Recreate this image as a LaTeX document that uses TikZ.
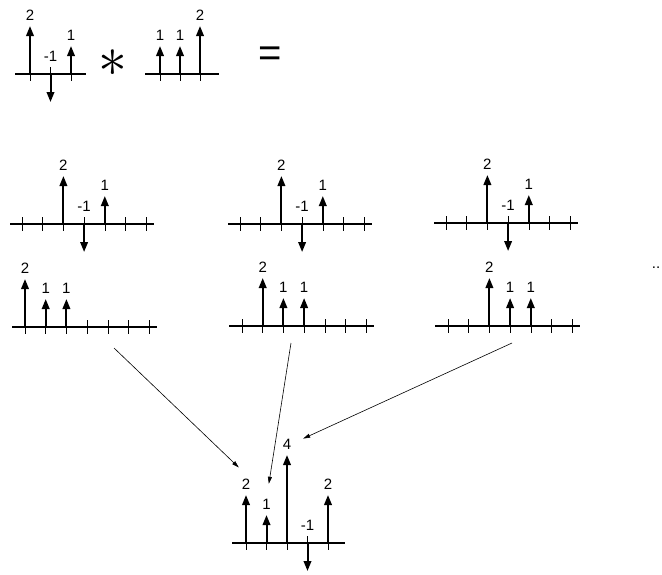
\documentclass[tikz,border=0pt]{standalone}
\usepackage{fontspec}
\setmainfont{Liberation Sans}
\usepackage{amsmath}
\usepackage{tikz}
\usetikzlibrary{arrows.meta}

\begin{document}
\begin{tikzpicture}[
		x = 1pt, y = -1pt,
		font = \fontsize{15}{17}\selectfont,
		ax/.style = {line width = 1.3pt},
		tk/.style = {line width = 0.6pt},
		spike/.style = {
			line width = 2pt,
			-{Triangle[width = 7.5pt, length = 10pt]}
		},
		lbl/.style = {inner sep = 0pt},
		conn/.style = {
			line width = 0.6pt,
			-{Triangle[width = 4pt, length = 7pt]}
		},
		pics/imp/.style = {
			code = {
				\pgfmathsetmacro\tip{(#1 > 0) ? -(8 + 20*#1) : 28}
				\pgfmathsetmacro\ly{(#1 > 0) ? \tip - 11 : -18}
				\draw [spike] (0,0) -- (0,\tip);
				\node [lbl] (-l) at (0,\ly) {#1};
			}
		}
	]
	\useasboundingbox (0,0) rectangle (662,574);

	% x[n]
	\begin{scope}[shift = {(30,74)}]
		\draw [ax] (-15,0) -- (56,0);
		\foreach \k/\a in {0/2, 1/-1, 2/1} {
			\draw [tk] (20.5*\k,-7) -- (20.5*\k,7);
			\pic at (20.5*\k,0) {imp = \a};
		}
	\end{scope}

	\node (star) at (113,63) {\scalebox{4}{$\ast$}};

	% h[n]
	\begin{scope}[shift = {(160,74)}]
		\draw [ax] (-15,0) -- (59,0);
		\foreach \k/\a in {0/1, 1/1, 2/2} {
			\draw [tk] (20*\k,-7) -- (20*\k,7);
			\pic at (20*\k,0) {imp = \a};
		}
	\end{scope}

	\node (eq) at (270,57) {\fontsize{40}{40}\selectfont =};

	% x[k] over h[n-k], three shifts
	\foreach \gx/\gy/\hx/\hy/\s in {22/224/25/327/0, 240/224/242/326/1, 446/223/448/326/2} {
		\begin{scope}[shift = {(\gx,\gy)}]
			\draw [ax] (-12,0) -- (132,0);
			\foreach \k in {0,...,6}
				\draw [tk] (20.7*\k,-7) -- (20.7*\k,7);
			\foreach \k/\a in {2/2, 3/-1, 4/1}
				\pic at (20.7*\k,0) {imp = \a};
		\end{scope}
		\begin{scope}[shift = {(\hx,\hy)}]
			\draw [ax] (-13,0) -- (132,0);
			\foreach \k in {0,...,6}
				\draw [tk] (20.7*\k,-7) -- (20.7*\k,7);
			\foreach \k/\a in {0/2, 1/1, 2/1}
				\pic at (20.7*\k + 20.7*\s,0) {imp = \a};
		\end{scope}
	}

	\node (more) at (656,268) {..};

	% y[n]
	\begin{scope}[shift = {(246,543)}]
		\draw [ax] (-14,0) -- (99,0);
		\foreach \k in {0,...,4}
			\draw [tk] (20.5*\k,-7) -- (20.5*\k,7);
		\pic (o0) at (0,0) {imp = 2};
		\pic (o1) at (20.5,0) {imp = 1};
		\pic (o2) at (41,0) {imp = 4};
		\pic (o3) at (61.5,0) {imp = -1};
		\pic (o4) at (82,0) {imp = 2};
	\end{scope}

	\coordinate (s0) at (114,348);
	\coordinate (s1) at (291,343);
	\coordinate (s2) at (512,343);

	\draw [conn, shorten > = 16pt] (s0) -- (o0-l.north east);
	\draw [conn, shorten > = 15pt] (s1) -- (o1-l.north);
	\draw [conn, shorten > = 13pt] (s2) -- (o2-l.east);
\end{tikzpicture}
\end{document}
